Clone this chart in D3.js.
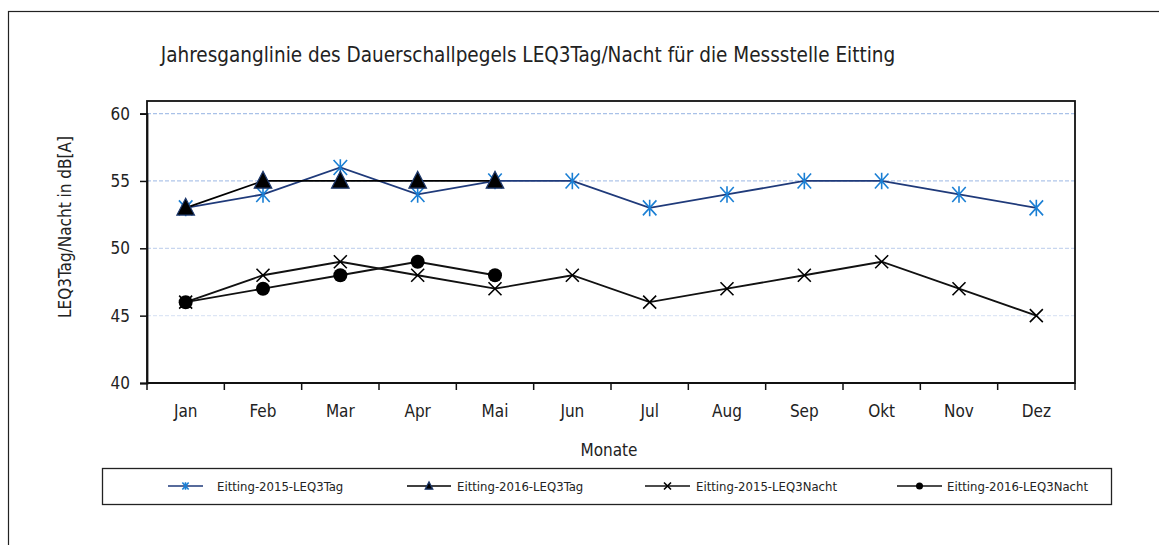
<!DOCTYPE html>
<html>
<head>
<meta charset="utf-8">
<script src="https://cdn.jsdelivr.net/npm/d3@7"></script>
<style>
  body { margin: 0; background: #fff; }
  text { font-family: 'Liberation Sans Narrow', 'DejaVu Sans Condensed', sans-serif; fill: #222; }
</style>
</head>
<body>
<script>
// Chart data
const months = ['Jan', 'Feb', 'Mar', 'Apr', 'Mai', 'Jun', 'Jul', 'Aug', 'Sep', 'Okt', 'Nov', 'Dez'];
const tag2015 = [53, 54, 56, 54, 55, 55, 53, 54, 55, 55, 54, 53];
const tag2016 = [53, 55, 55, 55, 55];
const nacht2015 = [46, 48, 49, 48, 47, 48, 46, 47, 48, 49, 47, 45];
const nacht2016 = [46, 47, 48, 49, 48];
const yTicks = [40, 45, 50, 55, 60];
const seriesNames = ['Eitting-2015-LEQ3Tag', 'Eitting-2016-LEQ3Tag', 'Eitting-2015-LEQ3Nacht', 'Eitting-2016-LEQ3Nacht'];

const W = 1159, H = 545;
const svg = d3.select('body').append('svg').attr('width', W).attr('height', H);

// outer chart border
svg.append('rect').attr('x', 8.5).attr('y', 11.5).attr('width', W).attr('height', H)
  .attr('fill', 'none').attr('stroke', '#222').attr('stroke-width', 1.2);

const pLeft = 147, pRight = 1075, pTop = 101, pBottom = 383;

const x = d3.scaleBand().domain(months).range([pLeft, pRight]);
const y = d3.scaleLinear().domain([40, 60]).range([pBottom, 113.6]);

// title
svg.append('text').attr('x', 528).attr('y', 62).attr('text-anchor', 'middle')
  .style('font-size', '20.5px')
  .text('Jahresganglinie des Dauerschallpegels LEQ3Tag/Nacht für die Messstelle Eitting');

// gridlines
const gridColor = { 45: '#dde6f5', 50: '#c8d6ef', 55: '#b0c6ea', 60: '#a9c1e8' };
svg.append('g').selectAll('line').data(yTicks.filter(d => d > 40)).join('line')
  .attr('x1', pLeft).attr('x2', pRight)
  .attr('y1', d => y(d)).attr('y2', d => y(d))
  .attr('stroke', d => gridColor[d]).attr('stroke-width', 1.3)
  .attr('stroke-dasharray', '4,2');

// plot frame
svg.append('rect').attr('x', pLeft).attr('y', pTop).attr('width', pRight - pLeft).attr('height', pBottom - pTop)
  .attr('fill', 'none').attr('stroke', '#111').attr('stroke-width', 1.8);

// y axis
const yAxis = svg.append('g').attr('transform', `translate(${pLeft},0)`)
  .call(d3.axisLeft(y).tickValues(yTicks).tickSize(7).tickPadding(10));
yAxis.select('.domain').attr('stroke', '#111').attr('stroke-width', 1.8);
yAxis.selectAll('.tick line').attr('stroke', '#111').attr('stroke-width', 1.5);
yAxis.selectAll('.tick text').style('font-size', '17px').attr('fill', '#222');

// x axis: ticks between categories
const xg = svg.append('g').attr('transform', `translate(0,${pBottom})`);
xg.append('line').attr('x1', pLeft).attr('x2', pRight).attr('stroke', '#111').attr('stroke-width', 1.8);
const bounds = months.map(m => x(m)).concat([pRight]);
xg.selectAll('line.t').data(bounds).join('line').attr('class', 't')
  .attr('x1', d => d).attr('x2', d => d).attr('y1', 0).attr('y2', 7)
  .attr('stroke', '#111').attr('stroke-width', 1.5);
xg.selectAll('text').data(months).join('text')
  .attr('x', d => x(d) + x.bandwidth() / 2).attr('y', 34)
  .attr('text-anchor', 'middle').style('font-size', '17px').text(d => d);

// axis titles
svg.append('text').attr('x', 609).attr('y', 456).attr('text-anchor', 'middle')
  .style('font-size', '17px').text('Monate');
svg.append('text').attr('transform', 'translate(71,227) rotate(-90)').attr('text-anchor', 'middle')
  .style('font-size', '17px').text('LEQ3Tag/Nacht in dB[A]');

const cx = i => x(months[i]) + x.bandwidth() / 2;
const line = d3.line().x((d, i) => cx(i)).y(d => y(d));

// marker drawers
function asterisk(g, s, color) {
  g.append('path').attr('d', `M${-s * 0.45},${-s * 0.5}L${s * 0.45},${s * 0.5}M${-s * 0.45},${s * 0.5}L${s * 0.45},${-s * 0.5}M0,${-s * 0.55}L0,${s * 0.55}`)
    .attr('stroke', color).attr('stroke-width', 1.6).attr('fill', 'none');
}
function triangle(g, s) {
  g.append('path').attr('d', `M0,${-s * 0.6}L${s * 0.55},${s * 0.45}L${-s * 0.55},${s * 0.45}Z`)
    .attr('fill', '#000').attr('stroke', '#1f3a6e').attr('stroke-width', 1.2);
}
function cross(g, s) {
  g.append('path').attr('d', `M${-s / 2},${-s / 2}L${s / 2},${s / 2}M${-s / 2},${s / 2}L${s / 2},${-s / 2}`)
    .attr('stroke', '#000').attr('stroke-width', 1.6).attr('fill', 'none');
}
function dot(g, s) {
  g.append('circle').attr('r', s / 2).attr('fill', '#000');
}

const series = [
  { data: tag2015, stroke: '#1f3a7a', marker: (g, s) => asterisk(g, s, '#1a7fd4'), size: 15 },
  { data: tag2016, stroke: '#000', marker: triangle, size: 16 },
  { data: nacht2015, stroke: '#111', marker: cross, size: 13 },
  { data: nacht2016, stroke: '#111', marker: dot, size: 14 }
];

series.forEach(s => {
  svg.append('path').datum(s.data).attr('d', line)
    .attr('fill', 'none').attr('stroke', s.stroke).attr('stroke-width', 1.8);
  s.data.forEach((v, i) => {
    const g = svg.append('g').attr('transform', `translate(${cx(i)},${y(v)})`);
    s.marker(g, s.size);
  });
});

// legend
svg.append('rect').attr('x', 102.5).attr('y', 468.5).attr('width', 1009).attr('height', 36)
  .attr('fill', 'none').attr('stroke', '#222').attr('stroke-width', 1.3);
const legendLine = [[168, 203], [407, 451], [645, 690], [897, 942]];
const legendText = [217, 457, 696, 947];
series.forEach((s, i) => {
  const ly = 486;
  const [a, b] = legendLine[i];
  svg.append('line').attr('x1', a).attr('x2', b)
    .attr('y1', ly).attr('y2', ly).attr('stroke', s.stroke).attr('stroke-width', 1.5);
  const g = svg.append('g').attr('transform', `translate(${(a + b) / 2},${ly})`);
  s.marker(g, 7);
  svg.append('text').attr('x', legendText[i]).attr('y', ly + 5)
    .style('font-size', '13px').text(seriesNames[i]);
});
</script>
</body>
</html>
